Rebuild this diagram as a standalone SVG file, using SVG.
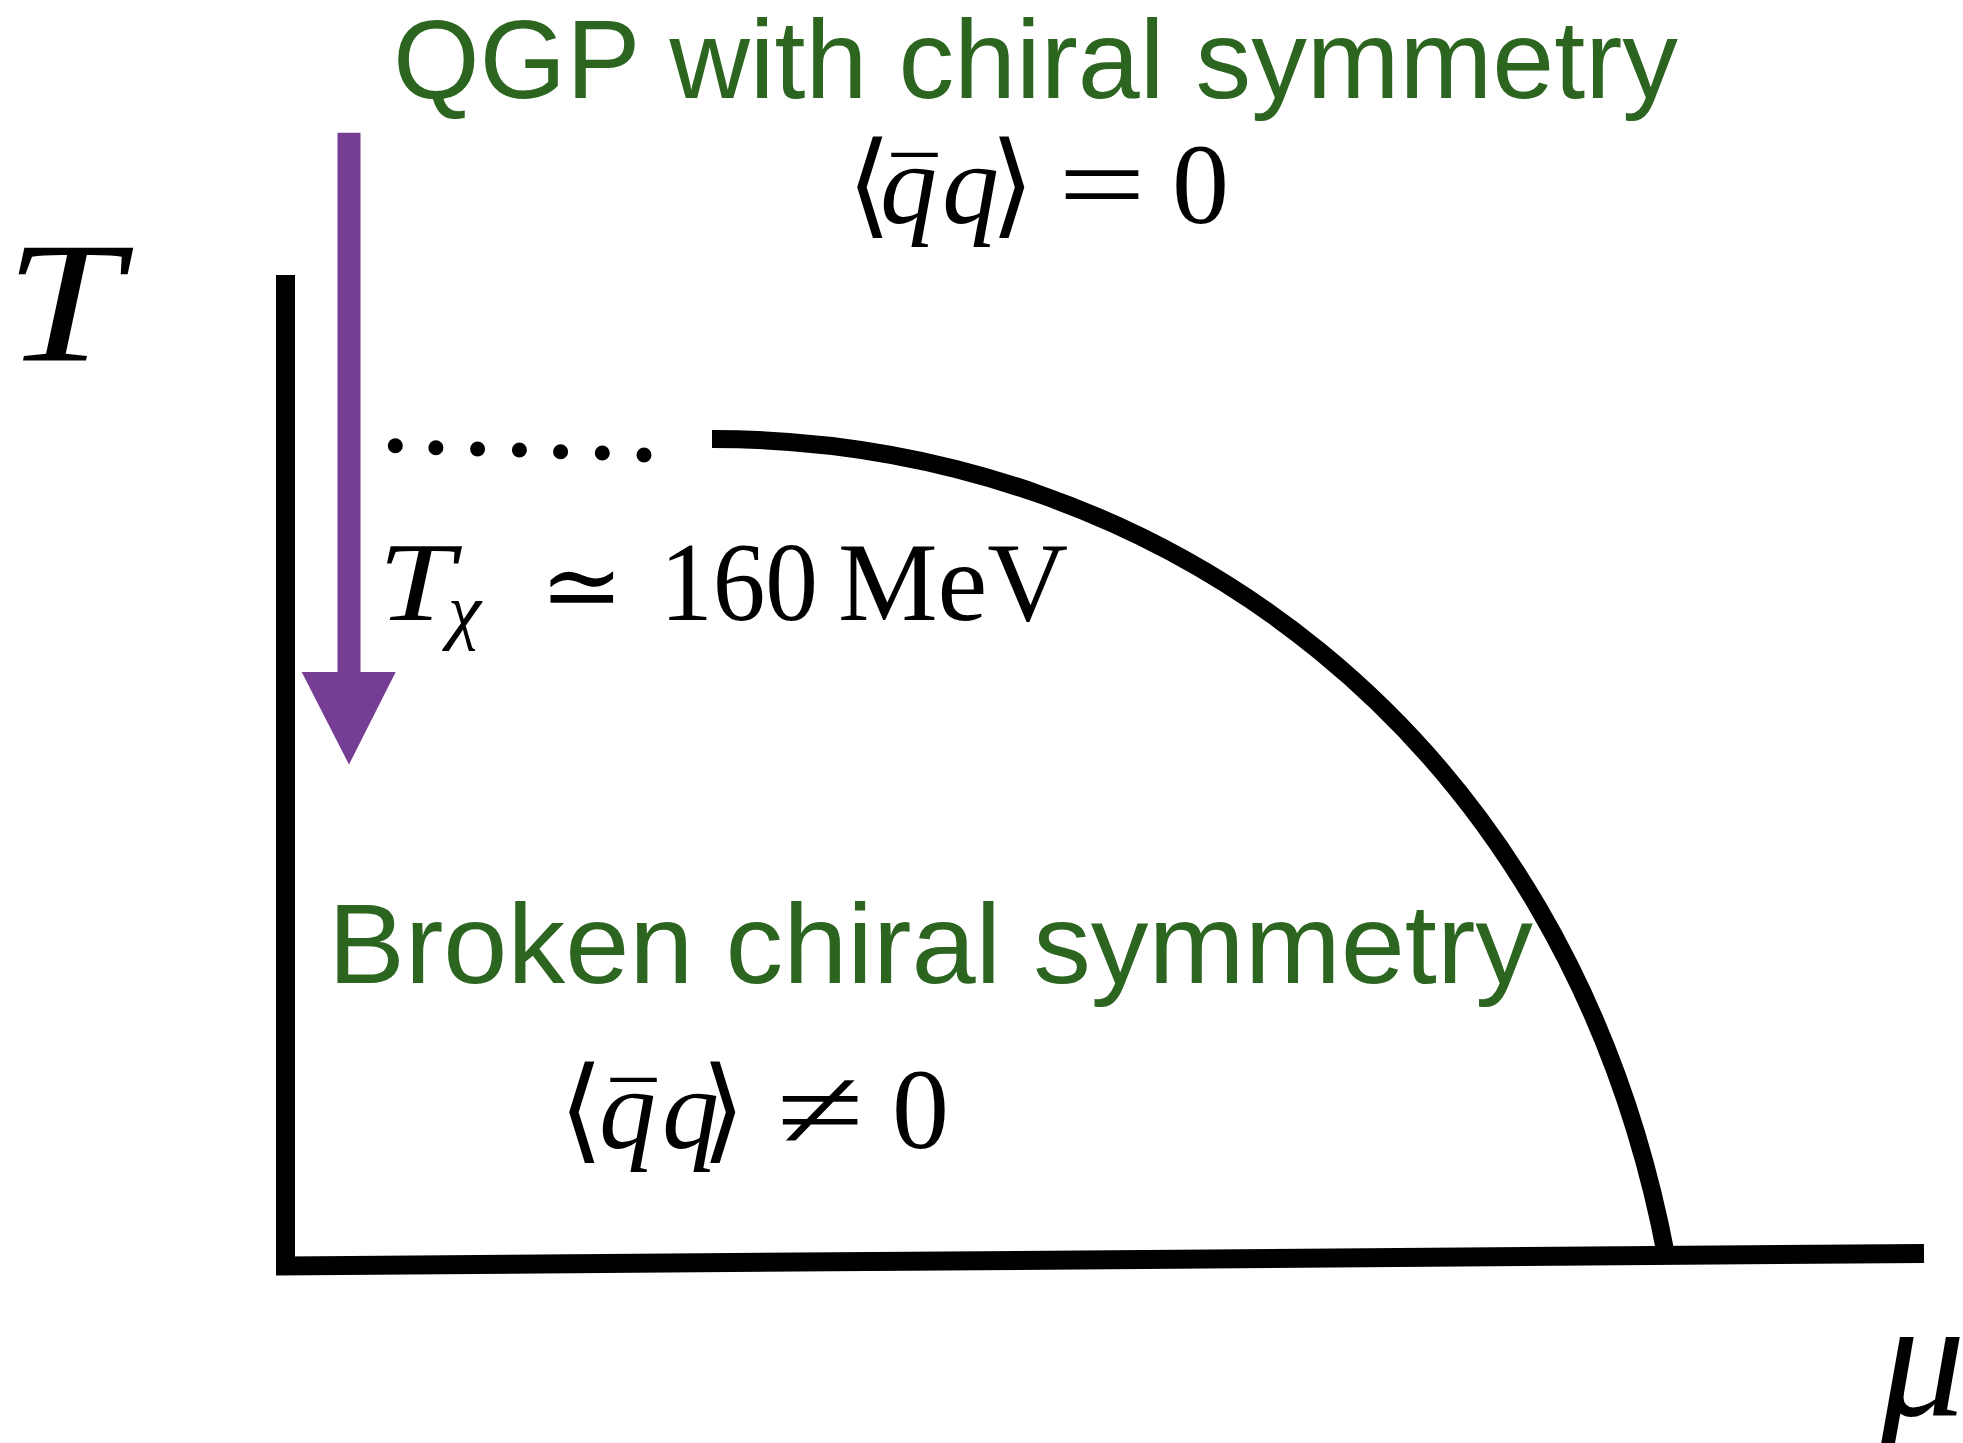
<svg xmlns="http://www.w3.org/2000/svg" width="1963" height="1443" viewBox="0 0 1963 1443">
<style>
.green{font-family:"Liberation Sans",Arial,Helvetica,sans-serif;fill:#2b651f}
.m{font-family:"Liberation Serif","DejaVu Serif",serif;fill:#000}
.it{font-style:italic}
.br{font-family:"DejaVu Sans",sans-serif;font-weight:200}
.ax{fill:none;stroke:#000;stroke-width:19;stroke-linejoin:miter;stroke-linecap:butt}
.dot{fill:#000}
</style>
<rect width="1963" height="1443" fill="#fff"/>
<g id="axes">
<polyline class="ax" points="285.5,275 285.5,1266 1924,1253.5"/>
</g>
<g id="connectors">
<path id="phase-boundary" d="M712,439 C1162,439 1567.2,735 1666,1255" fill="none" stroke="#000" stroke-width="18"/>
<g id="crossover-dots">
<circle class="dot" cx="395.3" cy="445.7" r="7.5"/>
<circle class="dot" cx="435.9" cy="447.7" r="7.5"/>
<circle class="dot" cx="477.6" cy="449" r="7.5"/>
<circle class="dot" cx="519.4" cy="450" r="7.5"/>
<circle class="dot" cx="560.6" cy="451.7" r="7.5"/>
<circle class="dot" cx="602.3" cy="453" r="7.5"/>
<circle class="dot" cx="644" cy="455" r="7.5"/>
</g>
<g id="cooling-arrow">
<line x1="349" y1="132.7" x2="349" y2="673" stroke="#763d95" stroke-width="23"/>
<polygon points="301.7,672 395.7,672 349,764.5" fill="#763d95"/>
</g>
</g>
<g id="axis-labels">
<text class="m it" x="5" y="360" font-size="171" textLength="116" lengthAdjust="spacingAndGlyphs">T</text>
<text class="m it" x="1880" y="1415" font-size="170">μ</text>
</g>
<g id="qgp-phase">
<text class="green" x="393" y="98" font-size="112" textLength="1285" lengthAdjust="spacingAndGlyphs">QGP with chiral symmetry</text>
<text class="m" y="223" font-size="114"><tspan x="847" class="br">⟨</tspan><tspan x="880" class="it">q</tspan><tspan x="942" class="it">q</tspan><tspan x="990" class="br">⟩</tspan><tspan x="1058" textLength="88" lengthAdjust="spacingAndGlyphs">=</tspan><tspan x="1172">0</tspan></text>
<text class="m" x="892" y="222" font-size="90">¯</text>
</g>
<g id="transition-label">
<text class="m" y="620" font-size="112"><tspan x="378" class="it" textLength="76" lengthAdjust="spacingAndGlyphs">T</tspan><tspan x="448" y="635" class="it" font-size="75">χ</tspan><tspan x="540" y="620" font-family="DejaVu Serif" font-size="100">≃</tspan><tspan x="660" textLength="158" lengthAdjust="spacingAndGlyphs">160</tspan><tspan x="838">MeV</tspan></text>
</g>
<g id="broken-phase">
<text class="green" x="328" y="983" font-size="114" textLength="1205" lengthAdjust="spacingAndGlyphs">Broken chiral symmetry</text>
<text class="m" y="1148" font-size="114"><tspan x="559" class="br">⟨</tspan><tspan x="599" class="it">q</tspan><tspan x="662" class="it">q</tspan><tspan x="701" class="br">⟩</tspan><tspan x="776" textLength="88" lengthAdjust="spacingAndGlyphs">≠</tspan><tspan x="892">0</tspan></text>
<text class="m" x="611" y="1147" font-size="90">¯</text>
</g>
</svg>
